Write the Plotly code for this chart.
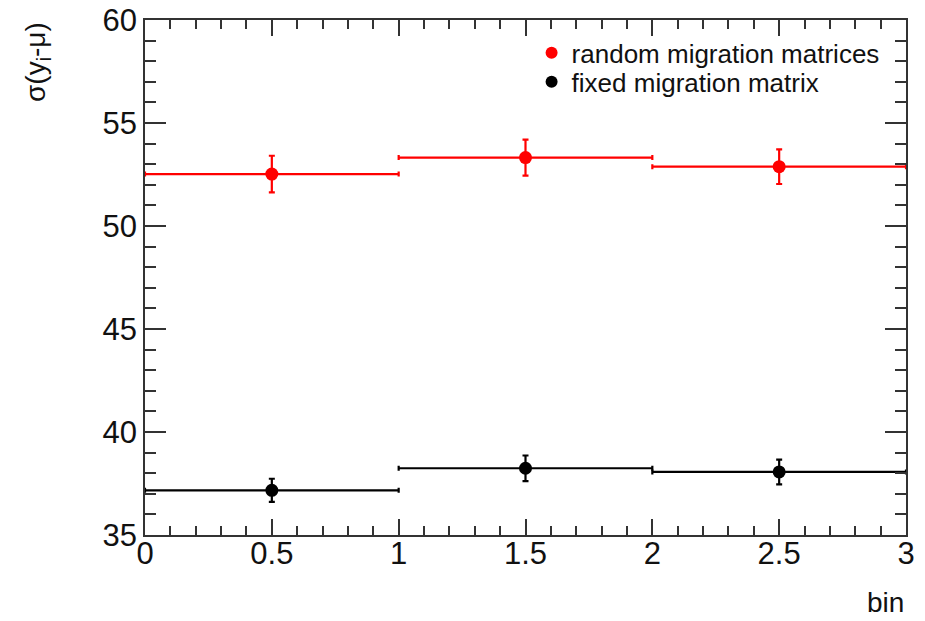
import plotly.graph_objects as go

bins = [0.5, 1.5, 2.5]
bin_halfwidth = [0.5, 0.5, 0.5]
random_vals = [52.52, 53.32, 52.88]
random_err = [0.89, 0.87, 0.84]
fixed_vals = [37.17, 38.24, 38.06]
fixed_err = [0.56, 0.62, 0.60]

FONT = "Liberation Sans, Arial, Helvetica, sans-serif"

fig = go.Figure()

def add_series(vals, errs, color, name, legend):
    fig.add_trace(go.Scatter(
        x=bins, y=vals, mode="markers", name=name, legend=legend,
        marker=dict(color=color, size=13, symbol="circle"),
        error_y=dict(type="data", array=errs, color=color, thickness=2.2, width=3),
        error_x=dict(type="data", array=bin_halfwidth, color=color, thickness=2.2, width=2.5),
    ))

add_series(random_vals, random_err, "#ff0000", "random migration matrices", "legend")
add_series(fixed_vals, fixed_err, "#000000", "fixed migration matrix", "legend2")

axis_common = dict(
    showline=True, linecolor="#333333", linewidth=1.5, mirror="ticks",
    ticks="inside", tickcolor="#333333", tickwidth=1.5,
    showgrid=False, zeroline=False, automargin=False,
    tickfont=dict(family=FONT, size=31, color="#111111"),
)

fig.update_xaxes(
    range=[0, 3], dtick=0.5, tick0=0, ticklen=16, ticklabelstandoff=-10,
    minor=dict(dtick=0.1, ticks="inside", ticklen=9, tickcolor="#333333", tickwidth=1.5, showgrid=False),
    **axis_common,
)
fig.update_yaxes(
    range=[35, 60], dtick=5, tick0=35, ticklen=21,
    minor=dict(dtick=1, ticks="inside", ticklen=11, tickcolor="#333333", tickwidth=1.5, showgrid=False),
    **axis_common,
)

leg_common = dict(
    xanchor="left", yanchor="middle",
    bgcolor="rgba(0,0,0,0)", borderwidth=0,
    font=dict(family=FONT, size=26),
    itemsizing="constant",
)

fig.update_layout(
    width=925, height=621,
    margin=dict(l=145, r=19, t=20, b=86),
    paper_bgcolor="white", plot_bgcolor="white",
    font=dict(family=FONT, color="#111111"),
    showlegend=True,
    legend=dict(x=0.508, y=0.936, **leg_common),
    legend2=dict(x=0.508, y=0.880, **leg_common),
    annotations=[
        dict(text="σ(y<sub>i</sub>-μ)", xref="paper", yref="paper",
             x=-0.142, y=1.0, xanchor="center", yanchor="top", textangle=-90,
             showarrow=False, font=dict(family=FONT, size=28, color="#111111")),
        dict(text="bin", xref="paper", yref="paper",
             x=1.0, y=-0.132, xanchor="right", yanchor="middle",
             showarrow=False, font=dict(family=FONT, size=28, color="#111111")),
    ],
)

fig.write_html("out.html")
